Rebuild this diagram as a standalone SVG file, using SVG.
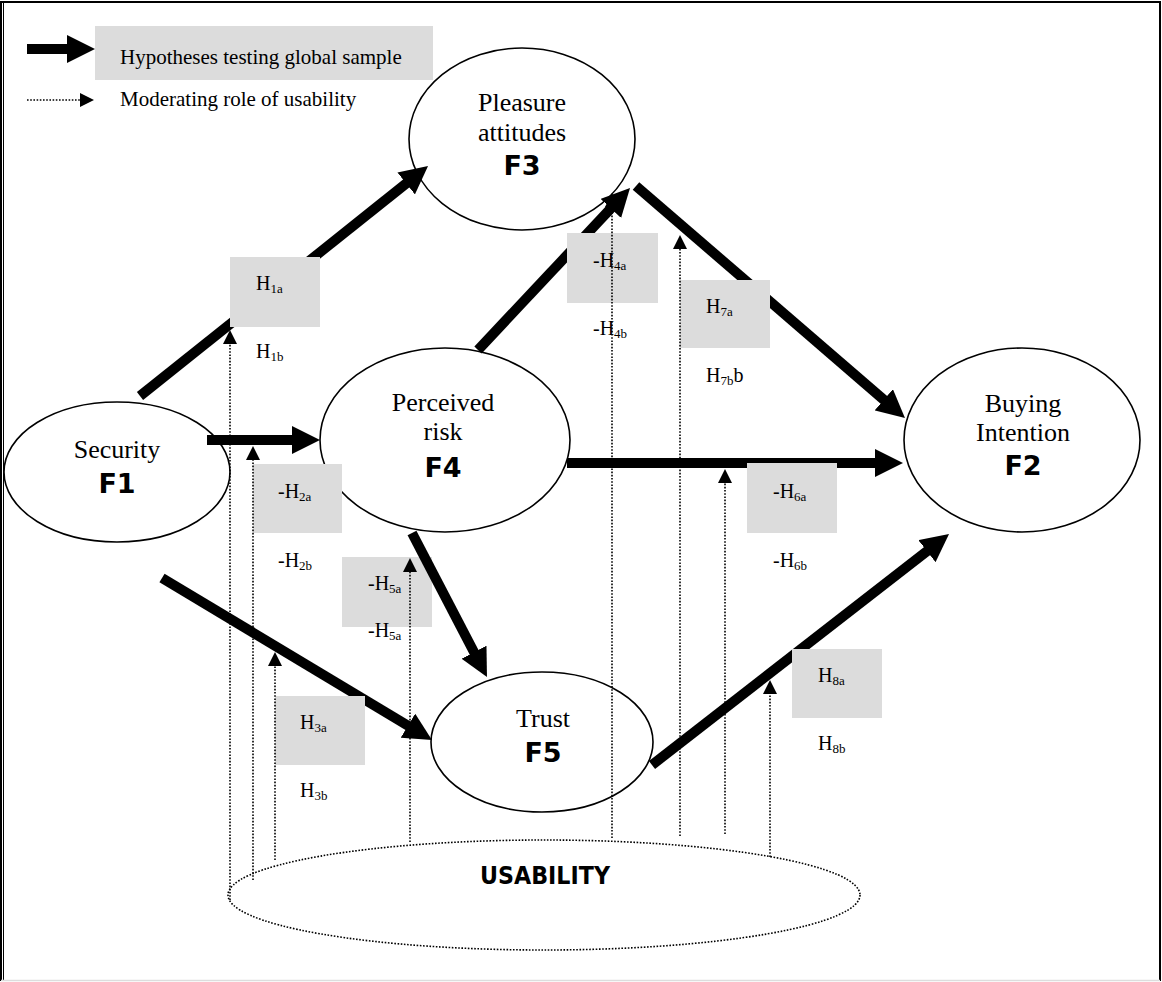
<svg xmlns="http://www.w3.org/2000/svg" width="1162" height="982" viewBox="0 0 1162 982">
<style>
.node{fill:#fff;stroke:#000;stroke-width:1.6}
.lbl{font-family:"Liberation Serif","Times New Roman",serif;font-size:26px;fill:#000;text-anchor:middle}
.fl{font-family:"DejaVu Sans",Verdana,sans-serif;font-weight:bold;font-size:27px;fill:#000;text-anchor:middle}
.h{font-family:"Liberation Serif","Times New Roman",serif;font-size:20px;fill:#000}
.sub{font-size:13px}
.box{fill:#dcdcdc}
.thick{stroke:#000;stroke-width:10;fill:none}
.dot{stroke:#000;stroke-width:1.6;stroke-dasharray:1.6 1.6;fill:none}
.leg{font-family:"Liberation Serif","Times New Roman",serif;font-size:21px;fill:#000}
</style>
<defs>
<marker id="big" markerUnits="userSpaceOnUse" markerWidth="28" markerHeight="28" refX="4" refY="14" orient="auto" viewBox="0 0 28 28"><path d="M0,0 L28,14 L0,28 z" fill="#000"/></marker>
<marker id="sm" markerUnits="userSpaceOnUse" markerWidth="14" markerHeight="14" refX="2" refY="7" orient="auto" viewBox="0 0 14 14"><path d="M0,0 L14,7 L0,14 z" fill="#000"/></marker>
</defs>
<rect x="0" y="0" width="1162" height="982" fill="#fff"/>
<g id="border">
<path d="M1,981 L1,2 L1160,2 L1160,981" fill="none" stroke="#000" stroke-width="2"/>
<line x1="3.5" y1="3" x2="3.5" y2="980" stroke="#000" stroke-width="1"/>
<line x1="1" y1="980.5" x2="1160" y2="980.5" stroke="#ddd" stroke-width="1.5"/>
</g>
<g id="legend">
<rect class="box" x="95" y="26" width="338" height="54"/>
<line class="thick" x1="27" y1="49" x2="71" y2="49" marker-end="url(#big)"/>
<text class="leg" x="120" y="64">Hypotheses testing global sample</text>
<line class="dot" x1="27" y1="100" x2="82" y2="100" marker-end="url(#sm)"/>
<text class="leg" x="120" y="106">Moderating role of usability</text>
</g>
<g id="usability">
<ellipse cx="544" cy="895" rx="316" ry="55" fill="none" stroke="#000" stroke-width="1.6" stroke-dasharray="1.6 1.6"/>
<text x="545" y="884" font-family="DejaVu Sans,Verdana,sans-serif" font-weight="bold" font-size="24" text-anchor="middle" textLength="130" lengthAdjust="spacingAndGlyphs">USABILITY</text>
</g>
<g id="F3">
<ellipse class="node" cx="522" cy="139" rx="113" ry="91"/>
<text class="lbl" x="522" y="111">Pleasure</text>
<text class="lbl" x="522" y="141">attitudes</text>
<text class="fl" x="522" y="175">F3</text>
</g>
<g id="F1">
<ellipse class="node" cx="117" cy="472" rx="113" ry="70"/>
<text class="lbl" x="117" y="458">Security</text>
<text class="fl" x="117" y="493">F1</text>
</g>
<g id="F4">
<ellipse class="node" cx="445" cy="440" rx="125" ry="92"/>
<text class="lbl" x="443" y="411">Perceived</text>
<text class="lbl" x="443" y="440">risk</text>
<text class="fl" x="443" y="477">F4</text>
</g>
<g id="F2">
<ellipse class="node" cx="1022" cy="440" rx="118" ry="92"/>
<text class="lbl" x="1023" y="412">Buying</text>
<text class="lbl" x="1023" y="441">Intention</text>
<text class="fl" x="1023" y="475">F2</text>
</g>
<g id="F5">
<ellipse class="node" cx="542" cy="742" rx="111" ry="70"/>
<text class="lbl" x="543" y="727">Trust</text>
<text class="fl" x="543" y="762">F5</text>
</g>
<g id="box-h5">
<rect class="box" x="342" y="557" width="90" height="70"/>
</g>
<g id="connectors">
<line class="thick" x1="140" y1="396" x2="409.3" y2="181" marker-end="url(#big)"/>
<line class="thick" x1="207" y1="440" x2="296" y2="440" marker-end="url(#big)"/>
<line class="thick" x1="162" y1="578" x2="411.4" y2="727.7" marker-end="url(#big)"/>
<line class="thick" x1="478" y1="350" x2="613.6" y2="205.5" marker-end="url(#big)"/>
<line class="thick" x1="636" y1="186" x2="886.8" y2="402.4" marker-end="url(#big)"/>
<line class="thick" x1="567" y1="463" x2="879" y2="463" marker-end="url(#big)"/>
<line class="thick" x1="412" y1="533" x2="475.9" y2="655.7" marker-end="url(#big)"/>
<line class="thick" x1="652" y1="765" x2="930.1" y2="548.7" marker-end="url(#big)"/>
</g>
<g id="boxes">
<rect class="box" x="230" y="257" width="90" height="70"/>
<rect class="box" x="253" y="464" width="89" height="69"/>
<rect class="box" x="567" y="233" width="91" height="70"/>
<rect class="box" x="680" y="280" width="90" height="68"/>
<rect class="box" x="747" y="463" width="90" height="70"/>
<rect class="box" x="792" y="649" width="90" height="69"/>
<rect class="box" x="275" y="696" width="90" height="69"/>
</g>
<g id="moderators">
<line class="dot" x1="230" y1="900" x2="230" y2="342" marker-end="url(#sm)"/>
<line class="dot" x1="253" y1="880" x2="253" y2="458" marker-end="url(#sm)"/>
<line class="dot" x1="275" y1="860" x2="275" y2="664" marker-end="url(#sm)"/>
<line class="dot" x1="410" y1="842" x2="410" y2="570" marker-end="url(#sm)"/>
<line class="dot" x1="612" y1="838" x2="612" y2="205" marker-end="url(#sm)"/>
<line class="dot" x1="680" y1="836" x2="680" y2="247" marker-end="url(#sm)"/>
<line class="dot" x1="725" y1="834" x2="725" y2="481" marker-end="url(#sm)"/>
<line class="dot" x1="770" y1="857" x2="770" y2="692" marker-end="url(#sm)"/>
</g>
<g id="labels">
<text class="h" x="256" y="290">H<tspan class="sub" dy="3">1a</tspan></text>
<text class="h" x="256" y="358">H<tspan class="sub" dy="3">1b</tspan></text>
<text class="h" x="278" y="498">-H<tspan class="sub" dy="3">2a</tspan></text>
<text class="h" x="278" y="567">-H<tspan class="sub" dy="3">2b</tspan></text>
<text class="h" x="593" y="267">-H<tspan class="sub" dy="3">4a</tspan></text>
<text class="h" x="593" y="335">-H<tspan class="sub" dy="3">4b</tspan></text>
<text class="h" x="706" y="313">H<tspan class="sub" dy="3">7a</tspan></text>
<text class="h" x="706" y="382">H<tspan class="sub" dy="3">7b</tspan><tspan dy="-3">b</tspan></text>
<text class="h" x="773" y="498">-H<tspan class="sub" dy="3">6a</tspan></text>
<text class="h" x="773" y="567">-H<tspan class="sub" dy="3">6b</tspan></text>
<text class="h" x="818" y="682">H<tspan class="sub" dy="3">8a</tspan></text>
<text class="h" x="818" y="750">H<tspan class="sub" dy="3">8b</tspan></text>
<text class="h" x="368" y="590">-H<tspan class="sub" dy="3">5a</tspan></text>
<text class="h" x="368" y="637">-H<tspan class="sub" dy="3">5a</tspan></text>
<text class="h" x="300" y="729">H<tspan class="sub" dy="3">3a</tspan></text>
<text class="h" x="300" y="797">H<tspan class="sub" dy="3">3b</tspan></text>
</g>
</svg>
